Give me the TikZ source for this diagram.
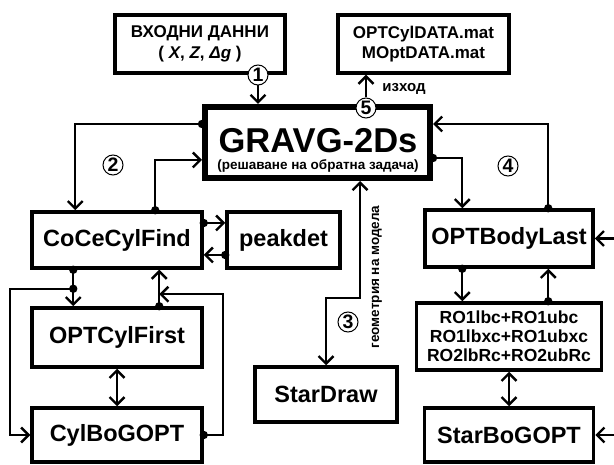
\documentclass[tikz,border=0pt]{standalone}
\usepackage{fontspec}
\setmainfont{Liberation Sans}
\usetikzlibrary{arrows.meta,calc}
\begin{document}
\begin{tikzpicture}[x=1pt,y=-1pt,
  box/.style={draw, line width=3.5pt, fill=white, inner sep=2pt, align=center, font=\fontsize{23.5}{25}\selectfont\bfseries},
  conn/.style={line width=2.4pt},
  arr/.style={conn, -{Straight Barb[length=7.5pt,width=15pt]}},
  dbl/.style={conn, {Straight Barb[length=7.5pt,width=15pt]}-{Straight Barb[length=7.5pt,width=15pt]}},
  num/.style={circle, draw, line width=1pt, fill=white, minimum size=20pt, inner sep=0pt, font=\fontsize{19.5}{19.5}\selectfont\bfseries},
  lbl/.style={inner sep=0pt, font=\fontsize{#1}{#1}\selectfont\bfseries},
]
\useasboundingbox (0,0) rectangle (614,465);

% boxes
\node[box, minimum width=170pt, minimum height=58pt, font=\fontsize{17}{21}\selectfont\bfseries] (input) at (200,44) {ВХОДНИ ДАННИ\\( \textit{X}, \textit{Z}, \textit{Δg} )};
\node[box, minimum width=171pt, minimum height=58pt, font=\fontsize{17}{20}\selectfont\bfseries] (output) at (423.5,44) {OPTCylDATA.mat\\MOptDATA.mat};
\node[box, line width=6pt, minimum width=225pt, minimum height=71pt] (gravg) at (317.5,142.5) {};
\node[anchor=base, lbl=34.5, text depth=0pt] (gtitle) at (318,153) {GRAVG-2Ds};
\node[anchor=base, lbl=13.5] (gsub) at (318,170) {(решаване на обратна задача)};
\node[box, minimum width=170pt, minimum height=56pt] (coce) at (117,240) {CoCeCylFind};
\node[box, minimum width=113pt, minimum height=56pt] (peak) at (283.5,240) {peakdet};
\node[box, minimum width=170pt, minimum height=59pt] (optfirst) at (117,337.5) {OPTCylFirst};
\node[box, minimum width=170pt, minimum height=54pt] (cylbo) at (117,435) {CylBoGOPT};
\node[box, minimum width=142pt, minimum height=55pt] (stardraw) at (326,394.5) {StarDraw};
\node[box, minimum width=168pt, minimum height=57pt] (optbody) at (509,238.5) {OPTBodyLast};
\node[box, minimum width=185pt, minimum height=67pt, font=\fontsize{17.5}{19}\selectfont\bfseries] (ro) at (509,336.5) {RO1lbc+RO1ubc\\RO1lbxc+RO1ubxc\\RO2lbRc+RO2ubRc};
\node[box, minimum width=169pt, minimum height=54pt] (starbo) at (509,435) {StarBoGOPT};

% circles
\node[num] (n1) at (258,75) {1};
\node[num] (n5) at (366,108) {5};
\node[num] (n2) at (113,165) {2};
\node[num] (n3) at (348,322) {3};
\node[num] (n4) at (508,166) {4};

% labels
\node[lbl=15] (izhod) at (404,89) {изход};
\node[rotate=90, lbl=13.5] (geom) at (377,277) {геометрия на модела};

% connectors
\draw[arr] (n1.south) -- (n1.south |- gravg.north);
\draw[arr] (n5.north) -- (n5.north |- output.south);

\draw[arr] ([yshift=18.5pt]gravg.west) coordinate (a0) -| ([xshift=45pt]coce.north west);
\draw[arr] ([xshift=125pt]coce.north west) coordinate (b0) |- ([yshift=-17.5pt]gravg.west);
\draw[arr] ([yshift=17pt]coce.east) coordinate (c0) -- (c0 -| peak.west);
\draw[arr] ([yshift=-15pt]peak.west) coordinate (d0) -- (d0 -| coce.east);
\draw[arr] ([xshift=43pt]coce.south west) coordinate (e0) -- (e0 |- optfirst.north);
\coordinate (e1) at ([yshift=-19pt]e0);
\draw[arr] (e1) -- ++(-63,0) |- (cylbo.west);
\draw[arr] ([xshift=129pt]optfirst.north west) coordinate (g0) -- (g0 |- coce.south);
\draw[arr] (cylbo.east) -- ++(19,0) |- ([yshift=12pt]g0);
\draw[dbl] (optfirst.south) -- (cylbo.north);

\draw[dbl] (stardraw.north) -- ++(0,-67) -| ([xshift=158pt]gravg.south west);

\draw[arr] ([yshift=-15.5pt]gravg.east) coordinate (k0) -| ([xshift=39pt]optbody.north west);
\draw[arr] ([xshift=125pt]optbody.north west) coordinate (l0) |- ([yshift=18.5pt]gravg.east);
\coordinate (rin1) at (618,238.5);
\draw[arr] (rin1) -- (optbody.east);
\draw[arr] ([xshift=39pt]optbody.south west) coordinate (m0) -- (m0 |- ro.north);
\coordinate (o0) at (ro.north -| l0);
\draw[arr] (o0) -- (o0 |- optbody.south);
\draw[dbl] (ro.south) -- (starbo.north);
\coordinate (rin2) at (618,435);
\draw[arr] (rin2) -- (starbo.east);

% dots
\foreach \p in {a0,b0,c0,d0,e0,e1,g0,cylbo.east,k0,l0,m0,o0}
  \fill (\p) circle (4.2pt);
\end{tikzpicture}
\end{document}
